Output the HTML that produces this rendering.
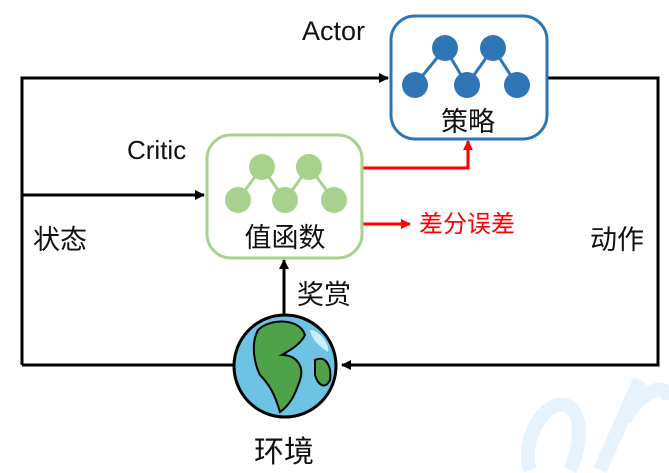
<!DOCTYPE html>
<html><head><meta charset="utf-8"><style>
html,body{margin:0;background:#fff;width:669px;height:473px;overflow:hidden;}
svg{display:block;}
text{font-family:"Liberation Sans","Noto Sans CJK SC",sans-serif;}
</style></head><body>
<svg width="669" height="473" viewBox="0 0 669 473" xmlns="http://www.w3.org/2000/svg">
<defs>
<marker id="ab" markerWidth="10" markerHeight="10" refX="9" refY="5" orient="auto" markerUnits="userSpaceOnUse"><path d="M0,0 L10,5 L0,10 z" fill="#000"/></marker>
<marker id="ar" markerWidth="10" markerHeight="10" refX="9" refY="5" orient="auto" markerUnits="userSpaceOnUse"><path d="M0,0 L10,5 L0,10 z" fill="#f00"/></marker>
</defs>
<!-- watermark (light strokes) -->
<g stroke="#e6f3fc" stroke-width="14" fill="none">
<path d="M530,470 C520,440 545,400 565,405 C585,410 580,450 570,470"/>
<path d="M600,470 L640,380 M625,420 C640,390 669,380 669,400"/>
</g>
<!-- black lines -->
<g stroke="#000" stroke-width="3" fill="none">
<polyline points="22,365 22,78 388,78" marker-end="url(#ab)"/>
<line x1="22" y1="195" x2="204" y2="195" marker-end="url(#ab)"/>
<line x1="22" y1="365" x2="234" y2="365"/>
<polyline points="547,78 658,78 658,365 342,365" marker-end="url(#ab)"/>
<line x1="284" y1="318" x2="284" y2="260" marker-end="url(#ab)"/>
</g>
<!-- red lines -->
<g stroke="#f00" stroke-width="3" fill="none">
<polyline points="362,168 468,168 468,141" marker-end="url(#ar)"/>
<line x1="362" y1="224" x2="410" y2="224" marker-end="url(#ar)"/>
</g>
<!-- actor box -->
<rect x="391" y="16" width="156" height="123" rx="24" fill="#fff" stroke="#2e75b6" stroke-width="3"/>
<g stroke="#2e75b6" stroke-width="3"><polyline points="415,85 445,48 467,85 493,48 517,85" fill="none"/></g>
<g fill="#2e75b6"><circle cx="445" cy="48" r="13"/><circle cx="493" cy="48" r="13"/><circle cx="415" cy="85" r="13"/><circle cx="467" cy="85" r="13"/><circle cx="517" cy="85" r="13"/></g>
<text x="468" y="131" font-size="27" text-anchor="middle" fill="#111">策略</text>
<!-- critic box -->
<rect x="207" y="135" width="155" height="123" rx="24" fill="#fff" stroke="#a9d18e" stroke-width="3"/>
<g stroke="#a9d18e" stroke-width="3"><polyline points="238,200 262,167 285,200 309,167 334,200" fill="none"/></g>
<g fill="#a9d18e"><circle cx="262" cy="167" r="13"/><circle cx="309" cy="167" r="13"/><circle cx="238" cy="200" r="13"/><circle cx="285" cy="200" r="13"/><circle cx="334" cy="200" r="13"/></g>
<text x="285" y="247" font-size="27" text-anchor="middle" fill="#111">值函数</text>
<!-- globe -->
<circle cx="285" cy="366" r="51" fill="#6cc3e3" stroke="#000" stroke-width="3"/>
<path d="M258,330 C270,318 300,318 305,335 C300,345 290,350 282,355 C295,355 305,365 300,380 C295,395 290,405 280,412 C275,395 270,385 260,375 C255,365 250,345 258,330 z" fill="#4ea24a" stroke="#000" stroke-width="2"/>
<path d="M315,360 C325,355 332,365 330,380 C325,390 318,385 315,375 z" fill="#4ea24a" stroke="#000" stroke-width="2"/>
<path d="M310,330 C320,330 330,345 328,352 C318,345 312,340 310,330 z" fill="#c9f0fa"/>
<!-- labels -->
<text x="302" y="40" font-size="27" fill="#111">Actor</text>
<text x="127" y="159" font-size="26" fill="#111">Critic</text>
<text x="33" y="249" font-size="27" fill="#111">状态</text>
<text x="590" y="249" font-size="27" fill="#111">动作</text>
<text x="297" y="304" font-size="27" fill="#111">奖赏</text>
<text x="254" y="462" font-size="30" fill="#111">环境</text>
<text x="419" y="232" font-size="24" fill="#f00">差分误差</text>
</svg>
</body></html>
